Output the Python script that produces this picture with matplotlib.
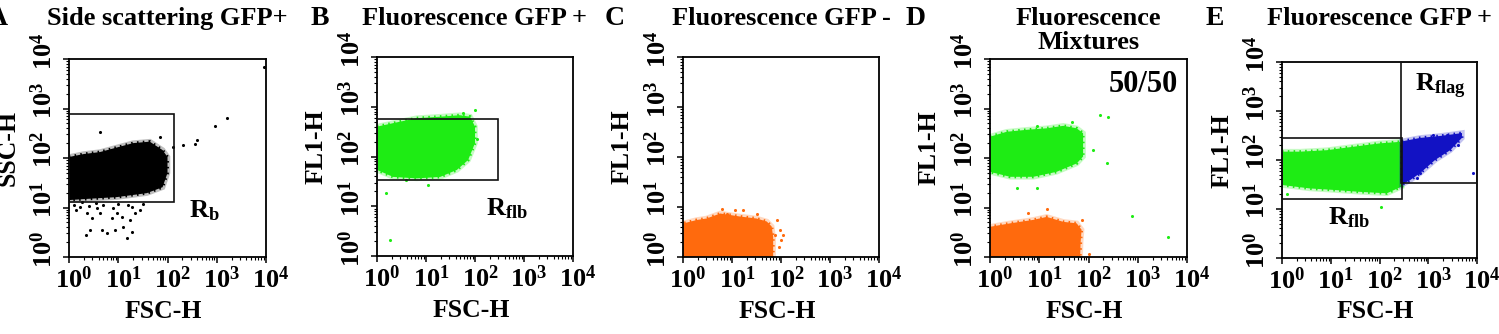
"""Flow cytometry gating panels A-E (FSC-H vs SSC-H / FL1-H)."""

import numpy as np
import matplotlib
matplotlib.use("Agg")
import matplotlib.pyplot as plt
from matplotlib.colors import to_rgba
from matplotlib.patches import Rectangle
from matplotlib.ticker import FixedLocator, LogLocator, NullFormatter
from matplotlib.transforms import ScaledTranslation

plt.rcParams["font.family"] = ["Liberation Serif", "DejaVu Serif"]
plt.rcParams["font.weight"] = "bold"
plt.rcParams["axes.labelweight"] = "bold"
plt.rcParams["mathtext.fontset"] = "custom"
plt.rcParams["mathtext.rm"] = "Liberation Serif:bold"
plt.rcParams["mathtext.it"] = "Liberation Serif:bold"
plt.rcParams["mathtext.bf"] = "Liberation Serif:bold"

W, H = 1499, 334
BLACK = "#000000"
GREEN = "#1eec14"
ORANGE = "#ff6a0d"
BLUE = "#1212c4"

# ---- text ----
panel_letters = ["A", "B", "C", "D", "E"]
panel_titles = ["Side scattering GFP+", "Fluorescence GFP +", "Fluorescence GFP -",
                "Fluorescence\nMixtures", "Fluorescence GFP +"]
y_labels = ["SSC-H", "FL1-H", "FL1-H", "FL1-H", "FL1-H"]
x_label = "FSC-H"
decades = [0, 1, 2, 3, 4]
tick_labels = [r"$\mathrm{10^{0}}$", r"$\mathrm{10^{1}}$", r"$\mathrm{10^{2}}$",
               r"$\mathrm{10^{3}}$", r"$\mathrm{10^{4}}$"]

# ---- data, all in log10 units (channel decades) ----
# A: side scatter, black cloud
a_cloud_x = [0, 0.3, 0.63, 1.0, 1.3, 1.64, 1.9, 2.0, 2.0, 1.9, 1.58, 0.97, 0.3, 0]
a_cloud_y = [2.02, 2.08, 2.12, 2.22, 2.30, 2.33, 2.16, 2.02, 1.70, 1.41, 1.29, 1.21, 1.17, 1.15]
a_pts_x = [0.22, 0.36, 0.46, 0.43, 0.35, 0.56, 0.63, 0.66, 0.77, 0.87, 0.93, 0.97, 1.00,
           1.07, 1.10, 1.17, 1.24, 1.27, 1.44, 0.63, 2.32, 2.56, 2.59, 2.96, 3.20, 3.95,
           1.85, 2.12, 0.26, 1.27, 0.10, 0.40, 0.70, 0.90, 1.20, 1.50, 0.15, 0.55, 1.35]
a_pts_y = [1.02, 0.88, 0.78, 0.55, 0.44, 0.98, 0.88, 0.55, 0.48, 0.78, 0.55, 0.88, 1.08,
           0.81, 0.61, 0.38, 0.75, 0.51, 0.95, 2.53, 2.26, 2.28, 2.36, 2.65, 2.80, 3.84,
           2.42, 2.23, 1.12, 1.02, 1.05, 1.03, 1.06, 1.00, 1.05, 1.08, 0.95, 1.10, 0.88]
a_gate_x = [0, 2.13]
a_gate_y = [1.11, 2.88]

# B: GFP+ fluorescence, green cloud
b_cloud_x = [0, 0.47, 0.81, 1.29, 1.69, 1.90, 2.0, 2.0, 1.86, 1.63, 1.29, 0.81, 0.33, 0]
b_cloud_y = [2.60, 2.70, 2.77, 2.80, 2.83, 2.80, 2.60, 2.27, 1.93, 1.73, 1.59, 1.56, 1.59, 1.73]
b_pts_x = [0.18, 0.27, 1.05, 2.00, 2.05, 1.75, 0.60]
b_pts_y = [1.26, 0.33, 1.43, 2.93, 2.35, 2.88, 1.52]
b_gate_x = [0, 2.47]
b_gate_y = [1.53, 2.75]

# C: GFP- fluorescence, orange cloud
c_cloud_x = [0, 0, 0.28, 0.48, 0.76, 1.16, 1.50, 1.71, 1.81, 1.84, 1.84]
c_cloud_y = [0, 0.67, 0.74, 0.77, 0.87, 0.81, 0.77, 0.71, 0.61, 0.40, 0]
c_pts_x = [0.79, 1.23, 1.50, 1.91, 1.98, 2.01, 1.95, 1.88, 0.89, 1.06, 0.99, 2.05]
c_pts_y = [0.97, 0.95, 0.87, 0.74, 0.54, 0.34, 0.21, 0.44, 0.87, 0.94, 0.77, 0.44]

# D: 50/50 mixture, green + orange clouds
d_green_x = [0, 0.34, 0.75, 1.15, 1.49, 1.76, 1.89, 1.89, 1.76, 1.35, 0.88, 0.41, 0]
d_green_y = [2.43, 2.53, 2.57, 2.60, 2.65, 2.60, 2.50, 2.03, 1.89, 1.72, 1.62, 1.62, 1.72]
d_orange_x = [0, 0, 0.41, 0.88, 1.15, 1.49, 1.76, 1.86, 1.84, 1.83]
d_orange_y = [0, 0.61, 0.68, 0.75, 0.81, 0.71, 0.68, 0.55, 0.30, 0]
d_green_pts_x = [0.95, 0.54, 0.95, 2.23, 2.40, 2.37, 2.10, 1.66, 2.88, 3.62]
d_green_pts_y = [2.65, 1.39, 1.39, 2.87, 2.83, 1.89, 2.16, 2.73, 0.83, 0.40]
d_orange_pts_x = [0.78, 1.15, 1.86, 2.00]
d_orange_pts_y = [0.88, 0.96, 0.75, 0.07]
d_ratio = "50/50"

# E: GFP+ with flagellated gate, green + blue clouds
e_green_x = [0, 0.37, 0.92, 1.46, 2.01, 2.42, 2.46, 2.46, 2.15, 1.60, 1.05, 0.57, 0]
e_green_y = [2.17, 2.17, 2.20, 2.27, 2.34, 2.37, 2.30, 1.46, 1.32, 1.35, 1.39, 1.42, 1.49]
e_blue_x = [2.46, 2.83, 3.24, 3.55, 3.69, 3.69, 3.45, 3.14, 2.83, 2.63, 2.46]
e_blue_y = [2.38, 2.45, 2.49, 2.53, 2.55, 2.45, 2.20, 2.00, 1.73, 1.59, 1.50]
e_blue_pts_x = [3.65, 3.62, 3.92, 3.10, 3.38, 2.83, 2.76]
e_blue_pts_y = [2.54, 2.31, 1.73, 2.51, 2.51, 1.73, 1.63]
e_green_pts_x = [2.04, 0.10]
e_green_pts_y = [1.05, 1.30]
e_flb_gate_x = [0, 2.46]
e_flb_gate_y = [1.20, 2.45]
e_flag_gate_x = [2.44, 4.0]
e_flag_gate_y = [1.53, 4.0]

# ---- layout (pixel boxes: left, right, top, bottom) ----
boxes = [(69, 266, 59, 257), (377, 573, 57, 256), (683, 879, 57, 257),
         (990, 1187, 59, 257), (1282, 1477, 62, 258)]
letter_x = [8, 320, 615, 916, 1215]


def lg(v):
    return 10.0 ** np.asarray(v, dtype=float)


def cloud(ax, xs, ys, color):
    # solid body with a soft halo and a speckled rim
    ax.fill(lg(xs), lg(ys), facecolor=color, edgecolor=to_rgba(color, 0.25),
            linewidth=4, zorder=2)
    ax.fill(lg(xs), lg(ys), facecolor="none", edgecolor=color, linewidth=2.2,
            linestyle=(0, (0.5, 1.4)), zorder=2)


def dots(ax, xs, ys, color):
    ax.scatter(lg(xs), lg(ys), s=5, color=color, linewidths=0, zorder=3)


def gate(ax, gx, gy):
    x0, x1 = lg(gx)
    y0, y1 = lg(gy)
    ax.add_patch(Rectangle((x0, y0), x1 - x0, y1 - y0, fill=False,
                           edgecolor="#111111", linewidth=1.2, zorder=4))


def region_label(ax, x, y, text):
    ax.text(10 ** x, 10 ** y, text, fontsize=19, ha="center", va="center", zorder=5)


def setup(fig, ax, ylabel):
    ax.set_xscale("log")
    ax.set_yscale("log")
    ax.set_xlim(1, 1e4)
    ax.set_ylim(1, 1e4)
    for axis in (ax.xaxis, ax.yaxis):
        axis.set_major_locator(FixedLocator(lg(decades)))
        axis.set_minor_locator(LogLocator(base=10, subs=np.arange(2, 10), numticks=20))
        axis.set_minor_formatter(NullFormatter())
    ax.set_xticklabels(tick_labels, fontsize=19)
    ax.set_yticklabels(tick_labels, fontsize=19, rotation=90, va="center")
    ax.tick_params(which="major", length=4.5, width=1.1, direction="out", pad=2)
    ax.tick_params(which="minor", length=2.2, width=0.8, direction="out")
    ax.tick_params(axis="y", which="major", pad=4)
    # keep the "10" centred on the tick, exponent hanging past it
    for lbl in ax.get_xticklabels():
        lbl.set_transform(lbl.get_transform() + ScaledTranslation(5 / 100, 0, fig.dpi_scale_trans))
    for lbl in ax.get_yticklabels():
        lbl.set_transform(lbl.get_transform() + ScaledTranslation(0, 8 / 100, fig.dpi_scale_trans))
    for s in ax.spines.values():
        s.set_linewidth(1.3)
    ax.set_xlabel(x_label, fontsize=18.5, fontweight="bold")
    ax.set_ylabel(ylabel, fontsize=18.5, fontweight="bold")
    ax.xaxis.set_label_coords(0.48, -0.273)
    ax.xaxis.label.set_va("center")
    ax.yaxis.set_label_coords(-0.31, 0.55)
    ax.yaxis.label.set_va("center")


def main():
    fig = plt.figure(figsize=(W / 100, H / 100), dpi=100)
    axes = []
    for (l, r, t, b) in boxes:
        axes.append(fig.add_axes([l / W, 1 - b / H, (r - l) / W, (b - t) / H]))

    for ax, yl in zip(axes, y_labels):
        setup(fig, ax, yl)

    # A
    ax = axes[0]
    cloud(ax, a_cloud_x, a_cloud_y, BLACK)
    dots(ax, a_pts_x, a_pts_y, BLACK)
    gate(ax, a_gate_x, a_gate_y)
    region_label(ax, 2.74, 0.93, r"$\mathrm{R_{b}}$")

    # B
    ax = axes[1]
    cloud(ax, b_cloud_x, b_cloud_y, GREEN)
    dots(ax, b_pts_x, b_pts_y, GREEN)
    gate(ax, b_gate_x, b_gate_y)
    region_label(ax, 2.65, 0.96, r"$\mathrm{R_{flb}}$")

    # C
    ax = axes[2]
    cloud(ax, c_cloud_x, c_cloud_y, ORANGE)
    dots(ax, c_pts_x, c_pts_y, ORANGE)

    # D
    ax = axes[3]
    cloud(ax, d_green_x, d_green_y, GREEN)
    cloud(ax, d_orange_x, d_orange_y, ORANGE)
    dots(ax, d_green_pts_x, d_green_pts_y, GREEN)
    dots(ax, d_orange_pts_x, d_orange_pts_y, ORANGE)
    ax.text(0.78, 0.87, d_ratio, transform=ax.transAxes, fontsize=22,
            ha="center", va="center")

    # E
    ax = axes[4]
    cloud(ax, e_green_x, e_green_y, GREEN)
    cloud(ax, e_blue_x, e_blue_y, BLUE)
    dots(ax, e_green_pts_x, e_green_pts_y, GREEN)
    dots(ax, e_blue_pts_x, e_blue_pts_y, BLUE)
    gate(ax, e_flb_gate_x, e_flb_gate_y)
    gate(ax, e_flag_gate_x, e_flag_gate_y)
    region_label(ax, 1.37, 0.82, r"$\mathrm{R_{flb}}$")
    region_label(ax, 3.24, 3.51, r"$\mathrm{R_{flag}}$")

    # panel letters and titles
    for i, (letter, title) in enumerate(zip(panel_letters, panel_titles)):
        l, r, t, b = boxes[i]
        fig.text(letter_x[i] / W, 1 - 25 / H, letter, fontsize=20,
                 ha="right" if i == 0 else "center", va="baseline")
        for j, line in enumerate(title.split("\n")):
            fig.text((l + r) / 2 / W, 1 - (25 + 24 * j) / H, line, fontsize=19,
                     ha="center", va="baseline")

    fig.savefig("out.png", dpi=100)
    plt.close(fig)


if __name__ == "__main__":
    main()
